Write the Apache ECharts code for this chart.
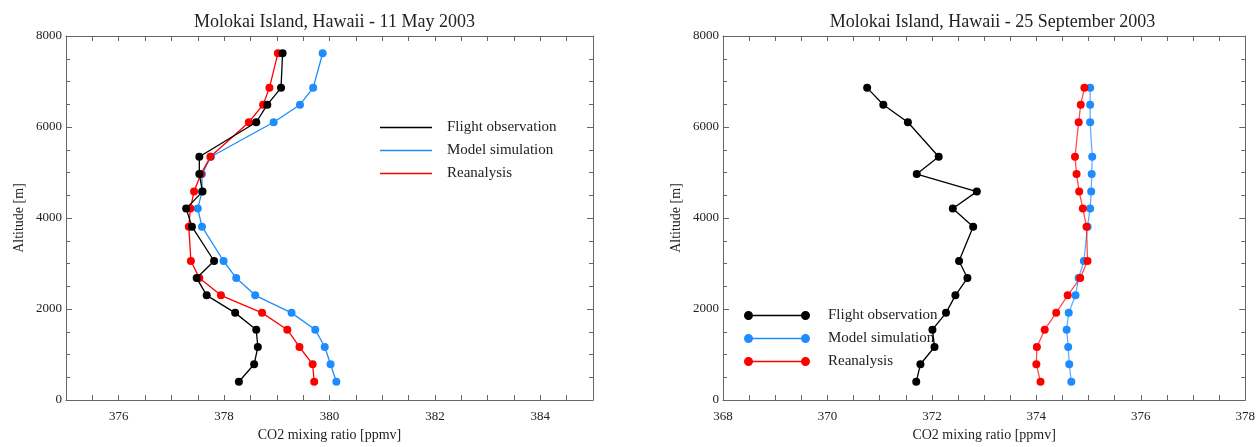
<!DOCTYPE html>
<html>
<head>
<meta charset="utf-8">
<script src="https://cdn.jsdelivr.net/npm/echarts@6/dist/echarts.min.js"></script>
<style>
html,body{margin:0;padding:0;background:#fff;}
#chart{width:1258px;height:447px;}
</style>
</head>
<body>
<div id="chart"></div>
<script>
// ---- Data ----
const mayAltitudes = [7620, 6860, 6490, 6105, 5345, 4965, 4580, 4207, 3810, 3055, 2680, 2300, 1915, 1545, 1165, 785, 400];
const mayFlight = [379.11, 379.08, 378.82, 378.61, 377.53, 377.53, 377.59, 377.28, 377.39, 377.81, 377.48, 377.67, 378.21, 378.61, 378.64, 378.57, 378.28];
const mayModel = [379.87, 379.69, 379.44, 378.94, 377.75, 377.58, 377.58, 377.50, 377.58, 377.99, 378.23, 378.59, 379.28, 379.73, 379.91, 380.02, 380.13];
const mayReanalysis = [379.02, 378.86, 378.74, 378.47, 377.74, 377.56, 377.43, 377.36, 377.33, 377.37, 377.53, 377.94, 378.72, 379.20, 379.43, 379.68, 379.71];

const sepAltitudes = [6860, 6490, 6105, 5345, 4965, 4580, 4207, 3810, 3055, 2680, 2300, 1915, 1545, 1165, 785, 400];
const sepFlight = [370.76, 371.07, 371.54, 372.13, 371.71, 372.86, 372.40, 372.79, 372.52, 372.68, 372.45, 372.27, 372.01, 372.05, 371.78, 371.70];
const sepModel = [375.03, 375.03, 375.03, 375.07, 375.06, 375.05, 375.03, 374.98, 374.91, 374.81, 374.75, 374.62, 374.58, 374.61, 374.63, 374.67];
const sepReanalysis = [374.92, 374.85, 374.81, 374.74, 374.77, 374.82, 374.89, 374.96, 374.98, 374.84, 374.60, 374.38, 374.16, 374.01, 374.00, 374.08];

const titles = ['Molokai Island, Hawaii - 11 May 2003', 'Molokai Island, Hawaii - 25 September 2003'];
const seriesNames = ['Flight observation', 'Model simulation', 'Reanalysis'];
const xRanges = [[375, 385], [368, 378]];
const yRange = [0, 8000];
const xTickStep = 0.5;      // tick spacing
const xLabelStep = 2;       // labelled every 2 ppmv
const yLabelInterval = 2000;

// ---- Styling ----
const colors = ['#000000', '#1e8cff', '#ff0000'];
const FONT = '"Liberation Serif", "DejaVu Serif", serif';
const axisColor = '#666';
const textColor = '#222';
const grids = [
  {left: 66, top: 36, width: 527, height: 374},
  {left: 723, top: 36, width: 529, height: 374}
];

function zip(xs, ys) { return xs.map((v, i) => [v, ys[i]]); }
function xLabel(v) {
  const r = Math.round(v * 2) / 2;
  return (Math.abs(r % xLabelStep) < 1e-6) ? String(r) : '';
}

const xAxes = [], yAxes = [];
grids.forEach((g, gi) => {
  const [mn, mx] = xRanges[gi];
  [false, true].forEach(top => {
    xAxes.push({
      type: 'value', gridIndex: gi, min: mn, max: mx, interval: xTickStep,
      position: top ? 'top' : 'bottom',
      name: top ? '' : 'CO2 mixing ratio [ppmv]', nameLocation: 'middle', nameGap: 28,
      nameTextStyle: {fontFamily: FONT, fontSize: 14, color: textColor},
      axisLine: {show: true, onZero: false, lineStyle: {color: axisColor, width: 1}},
      axisTick: {show: true, inside: true, length: 5, lineStyle: {color: axisColor}},
      axisLabel: {show: !top, fontFamily: FONT, fontSize: 13, color: textColor, margin: 10,
                  formatter: xLabel, showMinLabel: true, showMaxLabel: true, interval: 0},
      splitLine: {show: false}
    });
  });
  [false, true].forEach(right => {
    yAxes.push({
      type: 'value', gridIndex: gi, min: yRange[0], max: yRange[1], interval: yLabelInterval,
      position: right ? 'right' : 'left',
      name: right ? '' : 'Altitude [m]', nameLocation: 'middle', nameGap: 40,
      nameTextStyle: {fontFamily: FONT, fontSize: 14, color: textColor},
      axisLine: {show: true, onZero: false, lineStyle: {color: axisColor, width: 1}},
      axisTick: {show: true, inside: true, length: 6, lineStyle: {color: axisColor}},
      minorTick: {show: true, splitNumber: 4, length: 4, lineStyle: {color: axisColor}},
      axisLabel: {show: !right, fontFamily: FONT, fontSize: 13, color: textColor, margin: 4,
                  formatter: v => String(v)},
      splitLine: {show: false}, minorSplitLine: {show: false}
    });
  });
});

const datasets = [
  [[mayFlight, mayAltitudes], [mayModel, mayAltitudes], [mayReanalysis, mayAltitudes]],
  [[sepFlight, sepAltitudes], [sepModel, sepAltitudes], [sepReanalysis, sepAltitudes]]
];
const series = [];
datasets.forEach((set, gi) => {
  set.forEach(([xs, ys], si) => {
    series.push({
      name: seriesNames[si], type: 'line',
      xAxisIndex: gi * 2, yAxisIndex: gi * 2,
      data: zip(xs, ys),
      symbol: 'circle', symbolSize: 8, showSymbol: true,
      lineStyle: {color: colors[si], width: 1.3, opacity: gi === 1 && si > 0 ? 0.7 : 1},
      itemStyle: {color: colors[si]},
      z: si === 0 ? 4 : 3,
      animation: false
    });
  });
});

const legendIconEnds = 'path://M0,4.5 A4.5,4.5 0 1,1 9,4.5 A4.5,4.5 0 1,1 0,4.5 Z M4.5,3.8 L61.5,3.8 L61.5,5.2 L4.5,5.2 Z M57,4.5 A4.5,4.5 0 1,1 66,4.5 A4.5,4.5 0 1,1 57,4.5 Z';

const option = {
  backgroundColor: '#fff',
  animation: false,
  color: colors,
  title: titles.map((t, i) => ({
    text: t, left: grids[i].left + grids[i].width / 2, top: 8, textAlign: 'center',
    textStyle: {fontFamily: FONT, fontSize: 18, fontWeight: 'normal', color: textColor}
  })),
  grid: grids,
  xAxis: xAxes,
  yAxis: yAxes,
  legend: [
    {
      orient: 'vertical', left: 375, top: 115, itemGap: 8, padding: 5,
      itemWidth: 52, itemHeight: 1.5, icon: 'rect',
      data: seriesNames,
      textStyle: {fontFamily: FONT, fontSize: 15, color: textColor, padding: [0, 0, 0, 10], lineHeight: 15},
      selectedMode: false
    },
    {
      orient: 'vertical', left: 739, top: 303, itemGap: 8, padding: 5,
      itemWidth: 66, itemHeight: 9, icon: legendIconEnds,
      data: seriesNames,
      textStyle: {fontFamily: FONT, fontSize: 15, color: textColor, padding: [0, 0, 0, 13], lineHeight: 15},
      selectedMode: false
    }
  ],
  series: series
};

const chart = echarts.init(document.getElementById('chart'), null, {renderer: 'canvas'});
chart.setOption(option);
</script>
</body>
</html>
